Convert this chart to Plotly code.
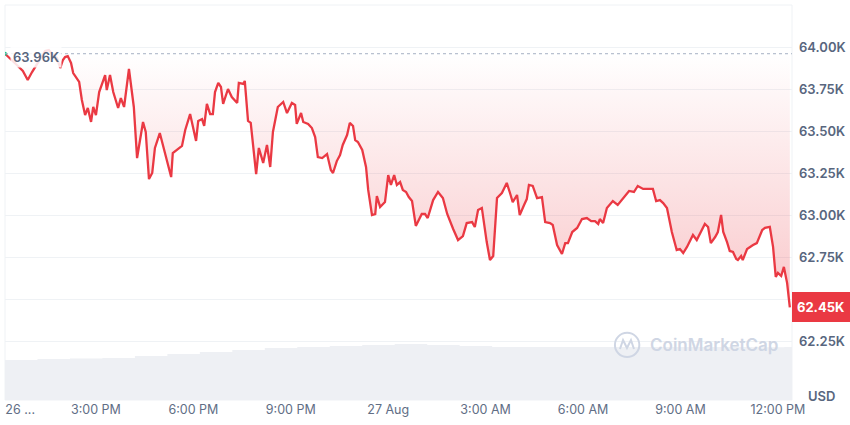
import pandas as pd
import plotly.graph_objects as go

# ---- data ----
start_time = "2024-08-26 12:12"
minutes = [0, 9, 20, 33, 42, 50, 57, 67, 74, 81,
           89, 96, 102, 107, 111, 116, 122, 126, 133, 137,
           142, 148, 153, 159, 163, 168, 174, 185, 188, 194,
           200, 209, 214, 220, 229, 238, 244, 255, 260, 266,
           272, 277, 286, 307, 310, 327, 333, 342, 353, 357,
           364, 368, 373, 379, 384, 388, 394, 399, 403, 412,
           419, 429, 432, 440, 443, 449, 454, 464, 469, 477,
           484, 490, 495, 504, 514, 521, 530, 536, 539, 547,
           551, 560, 567, 573, 578, 586, 595, 602, 606, 613,
           619, 624, 632, 637, 643, 647, 652, 660, 667, 671,
           678, 684, 687, 693, 702, 708, 713, 719, 724, 730,
           735, 741, 746, 752, 759, 770, 776, 781, 791, 800,
           809, 817, 828, 837, 846, 853, 863, 868, 874, 881,
           890, 896, 902, 909, 918, 927, 933, 938, 946, 951,
           959, 964, 968, 975, 983, 992, 998, 1007, 1012, 1020,
           1029, 1035, 1040, 1048, 1057, 1066, 1075, 1083, 1090, 1096,
           1099, 1105, 1112, 1123, 1132, 1142, 1153, 1162, 1169, 1179,
           1188, 1197, 1203, 1210, 1216, 1223, 1232, 1241, 1247, 1253,
           1260, 1265, 1271, 1278, 1284, 1293, 1299, 1304, 1312, 1317,
           1323, 1327, 1334, 1339, 1345, 1351, 1354, 1360, 1363, 1371,
           1382, 1389, 1399, 1404, 1413, 1419, 1424, 1428, 1434, 1439,
           1445, 1450]
prices = [63960, 63935, 63899, 63857, 63804, 63851, 63887, 63935, 63976, 63982,
          63952, 63935, 63875, 63923, 63940, 63946, 63905, 63845, 63815, 63792,
          63685, 63595, 63637, 63554, 63643, 63595, 63732, 63833, 63744, 63833,
          63732, 63637, 63696, 63643, 63869, 63643, 63339, 63554, 63494, 63214,
          63250, 63399, 63488, 63226, 63369, 63411, 63506, 63601, 63441, 63560,
          63571, 63530, 63661, 63601, 63601, 63732, 63786, 63762, 63661, 63750,
          63702, 63667, 63786, 63780, 63798, 63560, 63548, 63244, 63399, 63310,
          63417, 63286, 63494, 63643, 63673, 63607, 63667, 63655, 63542, 63607,
          63554, 63542, 63518, 63464, 63345, 63339, 63363, 63268, 63250, 63321,
          63357, 63417, 63476, 63548, 63530, 63446, 63435, 63387, 63286, 63149,
          63000, 63006, 63113, 63048, 63077, 63238, 63179, 63238, 63179, 63196,
          63149, 63137, 63107, 63083, 62935, 63006, 63006, 62982, 63089, 63137,
          63101, 63006, 62917, 62851, 62875, 62952, 62958, 62929, 63030, 63042,
          62839, 62732, 62756, 63101, 63131, 63191, 63131, 63077, 63119, 63000,
          63060, 63095, 63179, 63173, 63101, 63107, 62958, 62952, 62941, 62821,
          62768, 62833, 62833, 62899, 62923, 62976, 62982, 62964, 62964, 62947,
          62976, 62952, 63042, 63083, 63060, 63101, 63143, 63137, 63173, 63155,
          63155, 63155, 63083, 63089, 63071, 63042, 62899, 62792, 62798, 62774,
          62810, 62839, 62881, 62851, 62887, 62947, 62929, 62833, 62869, 62899,
          63000, 62899, 62839, 62786, 62780, 62738, 62732, 62756, 62732, 62798,
          62821, 62833, 62911, 62923, 62929, 62810, 62631, 62655, 62637, 62691,
          62595, 62450]
assert len(minutes) == len(prices)

vol_minutes = [0, 60, 120, 180, 240, 300, 360, 420, 480, 540, 600, 660, 720,
               780, 840, 900, 960, 1020, 1080, 1140, 1200, 1260, 1320, 1380, 1440, 1454]
volumes_bn = [25.3, 25.9, 26.3, 26.6, 27.8, 29.1, 30.4, 31.6, 32.9, 33.5, 34.2, 34.8, 35.4,
              34.8, 34.2, 33.5, 33.5, 33.5, 33.5, 33.5, 33.6, 33.5, 33.5, 33.4, 33.5, 33.5]

y_ticks = [62250, 62500, 62750, 63000, 63250, 63500, 63750, 64000]
x_tick_times = ["2024-08-26 12:40", "2024-08-26 15:00", "2024-08-26 18:00", "2024-08-26 21:00",
                "2024-08-27 00:00", "2024-08-27 03:00", "2024-08-27 06:00", "2024-08-27 09:00",
                "2024-08-27 12:00"]
x_tick_labels = ["26 ...", "3:00 PM", "6:00 PM", "9:00 PM", "27 Aug",
                 "3:00 AM", "6:00 AM", "9:00 AM", "12:00 PM"]

# ---- build ----
base = pd.Timestamp(start_time)
times = base + pd.to_timedelta(minutes, unit="m")
vol_times = base + pd.to_timedelta(vol_minutes, unit="m")

RED = "#ea3943"
GREY_TXT = "#58667e"
GRID = "#eff2f5"
FONT = "Inter"

open_price = prices[0]
last_price = prices[-1]

fig = go.Figure()

# volume area
fig.add_trace(go.Scatter(
    x=vol_times, y=volumes_bn, yaxis="y2", mode="lines",
    line=dict(width=0, shape="hv"), fill="tozeroy", fillcolor="#eef0f4",
    hoverinfo="skip", showlegend=False))

# baseline for the fill
fig.add_trace(go.Scatter(
    x=times, y=[open_price] * len(times), mode="lines",
    line=dict(width=0), hoverinfo="skip", showlegend=False))

# price line with gradient fill to baseline
fig.add_trace(go.Scatter(
    x=times, y=prices, mode="lines",
    line=dict(color=RED, width=2.3),
    fill="tonexty",
    fillgradient=dict(type="vertical",
                      colorscale=[[0, "rgba(234,57,67,0.28)"], [1, "rgba(234,57,67,0.0)"]],
                      start=min(prices), stop=open_price),
    showlegend=False))

# first-point dot
fig.add_trace(go.Scatter(
    x=[times[0]], y=[open_price], mode="markers",
    marker=dict(color="#16c784", size=4), showlegend=False, hoverinfo="skip"))

x_end = base + pd.Timedelta(minutes=1454)

# hide the tick label hidden behind the last-price tag
y_text = ["" if abs(v - last_price) < 100 else f"{v/1000:.2f}K" for v in y_ticks]

fig.update_layout(
    width=850, height=425,
    margin=dict(l=5, r=58, t=5, b=25),
    paper_bgcolor="white", plot_bgcolor="white",
    font=dict(family=FONT, color=GREY_TXT),
    xaxis=dict(
        type="date", range=[base, x_end],
        tickvals=pd.to_datetime(x_tick_times), ticktext=x_tick_labels,
        showgrid=False, zeroline=False, showline=False, ticks="",
        tickfont=dict(size=12.5, color="#616e85", family=FONT),
    ),
    yaxis=dict(
        side="right", range=[61899, 64250],
        tickvals=y_ticks, ticktext=y_text,
        showgrid=True, gridcolor=GRID, gridwidth=1, zeroline=False,
        ticks="", ticklabelstandoff=6,
        tickfont=dict(size=13, color=GREY_TXT, family=FONT, weight=600),
    ),
    yaxis2=dict(overlaying="y", range=[0, 250], visible=False),
    showlegend=False,
    hovermode=False,
)

# frame
fig.add_shape(type="rect", xref="paper", yref="paper", x0=0, x1=1, y0=0, y1=1,
              line=dict(color=GRID, width=1), layer="below")

# dotted open-price line
fig.add_shape(type="line", xref="paper", yref="y", x0=0, x1=1, y0=open_price, y1=open_price,
              line=dict(color="#a6b0c3", width=1, dash="dot"))

# open price label
fig.add_annotation(x=0.006, xref="paper", y=open_price, yref="y", xanchor="left",
                   yanchor="middle", yshift=-3,
                   text=f"{open_price/1000:.2f}K", showarrow=False,
                   font=dict(size=13, color=GREY_TXT, family=FONT, weight=600),
                   bgcolor="rgba(255,255,255,0.85)", borderpad=2)

# last price label
fig.add_annotation(x=1, xref="paper", y=last_price, yref="y", xanchor="left",
                   yanchor="middle", xshift=0,
                   text=f"<b>{last_price/1000:.2f}K</b>", showarrow=False,
                   font=dict(size=13, color="white", family=FONT),
                   bgcolor=RED, bordercolor=RED, borderpad=4, width=48, height=20)

# USD label
fig.add_annotation(x=1, xref="paper", y=0.01, yref="paper", xanchor="left", yanchor="middle",
                   xshift=14, text="USD", showarrow=False,
                   font=dict(size=13, color=GREY_TXT, family=FONT, weight=600))

# watermark
fig.add_shape(type="circle", xref="paper", yref="paper",
              x0=0.775, x1=0.806, y0=0.109, y1=0.170,
              line=dict(color="#cfd6e4", width=2))
fig.add_shape(type="path", xref="paper", yref="paper",
              path="M 0.7814 0.1291 L 0.7853 0.1519 L 0.7903 0.1316 L 0.7954 0.1519 L 0.7992 0.1291",
              line=dict(color="#cfd6e4", width=2))
fig.add_annotation(x=0.817, xref="paper", y=0.139, yref="paper", xanchor="left", yanchor="middle",
                   text="CoinMarketCap", showarrow=False,
                   font=dict(size=17, color="#cfd6e4", family=FONT, weight=600))

fig.write_html("out.html", config={"displayModeBar": False},
               post_script="document.body.style.margin='0';")
